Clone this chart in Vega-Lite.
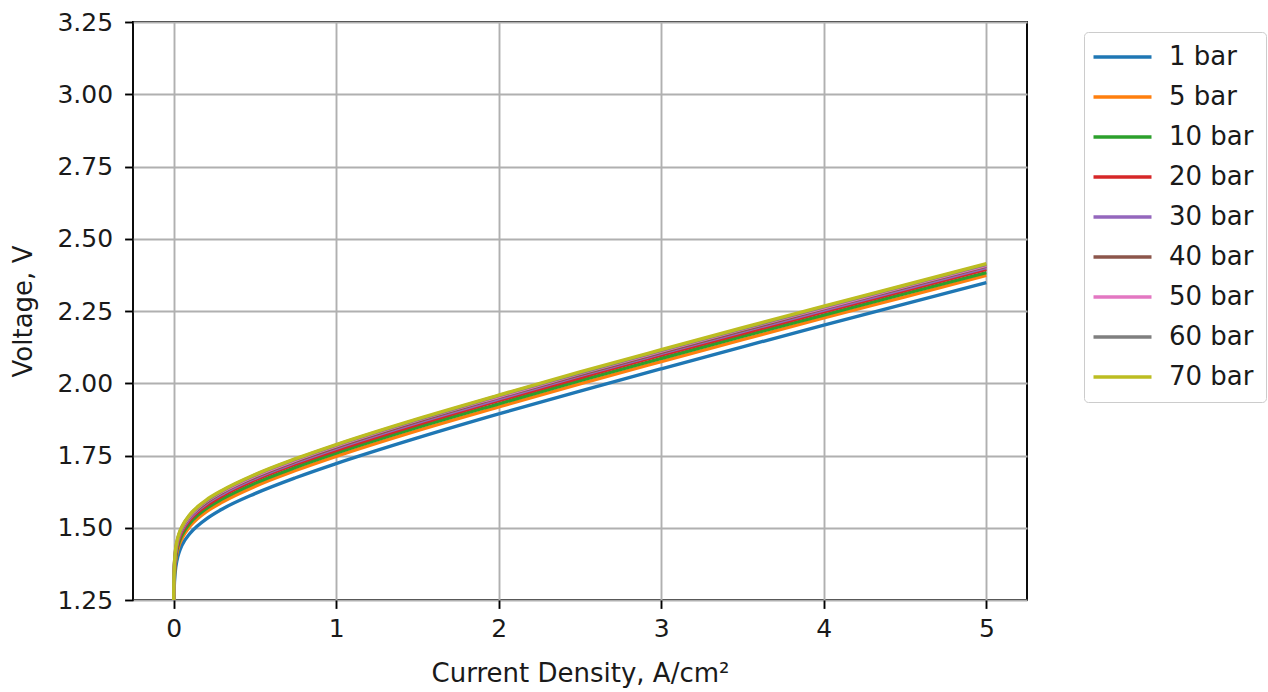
{
  "$schema": "https://vega.github.io/schema/vega-lite/v6.json",
  "width": 894,
  "height": 578,
  "autosize": {"type": "none"},
  "padding": {"left": 133, "top": 22, "right": 241, "bottom": 92},
  "background": "white",
  "config": {
    "font": "DejaVu Sans",
    "view": {"stroke": "#000000", "strokeWidth": 1.9},
    "axis": {
      "domain": false,
      "grid": true,
      "gridColor": "#b0b0b0",
      "gridWidth": 1.9,
      "tickColor": "#000000",
      "tickWidth": 1.9,
      "tickSize": 8.4,
      "labelFont": "DejaVu Sans",
      "labelFontSize": 25,
      "labelColor": "#1a1a1a",
      "labelPadding": 8,
      "labelFlush": false,
      "labelOverlap": false,
      "titleFont": "DejaVu Sans",
      "titleFontSize": 26,
      "titleFontWeight": "normal",
      "titleColor": "#1a1a1a"
    },
    "legend": {
      "orient": "none",
      "legendX": 951,
      "legendY": 10,
      "padding": 12,
      "strokeColor": "#cccccc",
      "fillColor": "#ffffff",
      "cornerRadius": 4,
      "labelFont": "DejaVu Sans",
      "labelFontSize": 26,
      "labelColor": "#1a1a1a",
      "symbolType": "M-1.15,0H4.65",
      "symbolSize": 400,
      "symbolStrokeWidth": 3.4,
      "rowPadding": 14,
      "labelOffset": 51,
      "symbolOffset": -4
    }
  },
  "data": {
    "values": [
      {"s": "1 bar", "j": 0, "v": 1.150}, {"s": "1 bar", "j": 0.001, "v": 1.227}, {"s": "1 bar", "j": 0.003, "v": 1.285}, {"s": "1 bar", "j": 0.01, "v": 1.348}, {"s": "1 bar", "j": 0.02, "v": 1.386}, {"s": "1 bar", "j": 0.035, "v": 1.417}, {"s": "1 bar", "j": 0.05, "v": 1.438}, {"s": "1 bar", "j": 0.1, "v": 1.480}, {"s": "1 bar", "j": 0.15, "v": 1.508}, {"s": "1 bar", "j": 0.2, "v": 1.530}, {"s": "1 bar", "j": 0.3, "v": 1.565}, {"s": "1 bar", "j": 0.5, "v": 1.618}, {"s": "1 bar", "j": 0.75, "v": 1.673}, {"s": "1 bar", "j": 1, "v": 1.722}, {"s": "1 bar", "j": 1.5, "v": 1.811}, {"s": "1 bar", "j": 2, "v": 1.894}, {"s": "1 bar", "j": 2.5, "v": 1.973}, {"s": "1 bar", "j": 3, "v": 2.050}, {"s": "1 bar", "j": 3.5, "v": 2.126}, {"s": "1 bar", "j": 4, "v": 2.201}, {"s": "1 bar", "j": 4.5, "v": 2.275}, {"s": "1 bar", "j": 5, "v": 2.348},
      {"s": "5 bar", "j": 0, "v": 1.175}, {"s": "5 bar", "j": 0.001, "v": 1.252}, {"s": "5 bar", "j": 0.003, "v": 1.310}, {"s": "5 bar", "j": 0.01, "v": 1.373}, {"s": "5 bar", "j": 0.02, "v": 1.411}, {"s": "5 bar", "j": 0.035, "v": 1.442}, {"s": "5 bar", "j": 0.05, "v": 1.462}, {"s": "5 bar", "j": 0.1, "v": 1.505}, {"s": "5 bar", "j": 0.15, "v": 1.533}, {"s": "5 bar", "j": 0.2, "v": 1.555}, {"s": "5 bar", "j": 0.3, "v": 1.589}, {"s": "5 bar", "j": 0.5, "v": 1.643}, {"s": "5 bar", "j": 0.75, "v": 1.698}, {"s": "5 bar", "j": 1, "v": 1.747}, {"s": "5 bar", "j": 1.5, "v": 1.836}, {"s": "5 bar", "j": 2, "v": 1.918}, {"s": "5 bar", "j": 2.5, "v": 1.998}, {"s": "5 bar", "j": 3, "v": 2.075}, {"s": "5 bar", "j": 3.5, "v": 2.151}, {"s": "5 bar", "j": 4, "v": 2.226}, {"s": "5 bar", "j": 4.5, "v": 2.299}, {"s": "5 bar", "j": 5, "v": 2.373},
      {"s": "10 bar", "j": 0, "v": 1.186}, {"s": "10 bar", "j": 0.001, "v": 1.263}, {"s": "10 bar", "j": 0.003, "v": 1.321}, {"s": "10 bar", "j": 0.01, "v": 1.384}, {"s": "10 bar", "j": 0.02, "v": 1.422}, {"s": "10 bar", "j": 0.035, "v": 1.453}, {"s": "10 bar", "j": 0.05, "v": 1.473}, {"s": "10 bar", "j": 0.1, "v": 1.516}, {"s": "10 bar", "j": 0.15, "v": 1.544}, {"s": "10 bar", "j": 0.2, "v": 1.566}, {"s": "10 bar", "j": 0.3, "v": 1.600}, {"s": "10 bar", "j": 0.5, "v": 1.654}, {"s": "10 bar", "j": 0.75, "v": 1.709}, {"s": "10 bar", "j": 1, "v": 1.758}, {"s": "10 bar", "j": 1.5, "v": 1.847}, {"s": "10 bar", "j": 2, "v": 1.929}, {"s": "10 bar", "j": 2.5, "v": 2.009}, {"s": "10 bar", "j": 3, "v": 2.086}, {"s": "10 bar", "j": 3.5, "v": 2.162}, {"s": "10 bar", "j": 4, "v": 2.236}, {"s": "10 bar", "j": 4.5, "v": 2.310}, {"s": "10 bar", "j": 5, "v": 2.383},
      {"s": "20 bar", "j": 0, "v": 1.196}, {"s": "20 bar", "j": 0.001, "v": 1.274}, {"s": "20 bar", "j": 0.003, "v": 1.331}, {"s": "20 bar", "j": 0.01, "v": 1.395}, {"s": "20 bar", "j": 0.02, "v": 1.432}, {"s": "20 bar", "j": 0.035, "v": 1.463}, {"s": "20 bar", "j": 0.05, "v": 1.484}, {"s": "20 bar", "j": 0.1, "v": 1.527}, {"s": "20 bar", "j": 0.15, "v": 1.555}, {"s": "20 bar", "j": 0.2, "v": 1.576}, {"s": "20 bar", "j": 0.3, "v": 1.611}, {"s": "20 bar", "j": 0.5, "v": 1.665}, {"s": "20 bar", "j": 0.75, "v": 1.720}, {"s": "20 bar", "j": 1, "v": 1.768}, {"s": "20 bar", "j": 1.5, "v": 1.857}, {"s": "20 bar", "j": 2, "v": 1.940}, {"s": "20 bar", "j": 2.5, "v": 2.019}, {"s": "20 bar", "j": 3, "v": 2.097}, {"s": "20 bar", "j": 3.5, "v": 2.172}, {"s": "20 bar", "j": 4, "v": 2.247}, {"s": "20 bar", "j": 4.5, "v": 2.321}, {"s": "20 bar", "j": 5, "v": 2.394},
      {"s": "30 bar", "j": 0, "v": 1.203}, {"s": "30 bar", "j": 0.001, "v": 1.280}, {"s": "30 bar", "j": 0.003, "v": 1.338}, {"s": "30 bar", "j": 0.01, "v": 1.401}, {"s": "30 bar", "j": 0.02, "v": 1.439}, {"s": "30 bar", "j": 0.035, "v": 1.470}, {"s": "30 bar", "j": 0.05, "v": 1.490}, {"s": "30 bar", "j": 0.1, "v": 1.533}, {"s": "30 bar", "j": 0.15, "v": 1.561}, {"s": "30 bar", "j": 0.2, "v": 1.583}, {"s": "30 bar", "j": 0.3, "v": 1.617}, {"s": "30 bar", "j": 0.5, "v": 1.671}, {"s": "30 bar", "j": 0.75, "v": 1.726}, {"s": "30 bar", "j": 1, "v": 1.775}, {"s": "30 bar", "j": 1.5, "v": 1.864}, {"s": "30 bar", "j": 2, "v": 1.946}, {"s": "30 bar", "j": 2.5, "v": 2.026}, {"s": "30 bar", "j": 3, "v": 2.103}, {"s": "30 bar", "j": 3.5, "v": 2.179}, {"s": "30 bar", "j": 4, "v": 2.253}, {"s": "30 bar", "j": 4.5, "v": 2.327}, {"s": "30 bar", "j": 5, "v": 2.400},
      {"s": "40 bar", "j": 0, "v": 1.207}, {"s": "40 bar", "j": 0.001, "v": 1.285}, {"s": "40 bar", "j": 0.003, "v": 1.342}, {"s": "40 bar", "j": 0.01, "v": 1.406}, {"s": "40 bar", "j": 0.02, "v": 1.443}, {"s": "40 bar", "j": 0.035, "v": 1.474}, {"s": "40 bar", "j": 0.05, "v": 1.495}, {"s": "40 bar", "j": 0.1, "v": 1.538}, {"s": "40 bar", "j": 0.15, "v": 1.565}, {"s": "40 bar", "j": 0.2, "v": 1.587}, {"s": "40 bar", "j": 0.3, "v": 1.622}, {"s": "40 bar", "j": 0.5, "v": 1.675}, {"s": "40 bar", "j": 0.75, "v": 1.730}, {"s": "40 bar", "j": 1, "v": 1.779}, {"s": "40 bar", "j": 1.5, "v": 1.868}, {"s": "40 bar", "j": 2, "v": 1.951}, {"s": "40 bar", "j": 2.5, "v": 2.030}, {"s": "40 bar", "j": 3, "v": 2.107}, {"s": "40 bar", "j": 3.5, "v": 2.183}, {"s": "40 bar", "j": 4, "v": 2.258}, {"s": "40 bar", "j": 4.5, "v": 2.332}, {"s": "40 bar", "j": 5, "v": 2.405},
      {"s": "50 bar", "j": 0, "v": 1.211}, {"s": "50 bar", "j": 0.001, "v": 1.288}, {"s": "50 bar", "j": 0.003, "v": 1.345}, {"s": "50 bar", "j": 0.01, "v": 1.409}, {"s": "50 bar", "j": 0.02, "v": 1.446}, {"s": "50 bar", "j": 0.035, "v": 1.478}, {"s": "50 bar", "j": 0.05, "v": 1.498}, {"s": "50 bar", "j": 0.1, "v": 1.541}, {"s": "50 bar", "j": 0.15, "v": 1.569}, {"s": "50 bar", "j": 0.2, "v": 1.591}, {"s": "50 bar", "j": 0.3, "v": 1.625}, {"s": "50 bar", "j": 0.5, "v": 1.679}, {"s": "50 bar", "j": 0.75, "v": 1.734}, {"s": "50 bar", "j": 1, "v": 1.783}, {"s": "50 bar", "j": 1.5, "v": 1.872}, {"s": "50 bar", "j": 2, "v": 1.954}, {"s": "50 bar", "j": 2.5, "v": 2.034}, {"s": "50 bar", "j": 3, "v": 2.111}, {"s": "50 bar", "j": 3.5, "v": 2.187}, {"s": "50 bar", "j": 4, "v": 2.261}, {"s": "50 bar", "j": 4.5, "v": 2.335}, {"s": "50 bar", "j": 5, "v": 2.408},
      {"s": "60 bar", "j": 0, "v": 1.214}, {"s": "60 bar", "j": 0.001, "v": 1.291}, {"s": "60 bar", "j": 0.003, "v": 1.348}, {"s": "60 bar", "j": 0.01, "v": 1.412}, {"s": "60 bar", "j": 0.02, "v": 1.449}, {"s": "60 bar", "j": 0.035, "v": 1.480}, {"s": "60 bar", "j": 0.05, "v": 1.501}, {"s": "60 bar", "j": 0.1, "v": 1.544}, {"s": "60 bar", "j": 0.15, "v": 1.572}, {"s": "60 bar", "j": 0.2, "v": 1.593}, {"s": "60 bar", "j": 0.3, "v": 1.628}, {"s": "60 bar", "j": 0.5, "v": 1.682}, {"s": "60 bar", "j": 0.75, "v": 1.737}, {"s": "60 bar", "j": 1, "v": 1.786}, {"s": "60 bar", "j": 1.5, "v": 1.874}, {"s": "60 bar", "j": 2, "v": 1.957}, {"s": "60 bar", "j": 2.5, "v": 2.036}, {"s": "60 bar", "j": 3, "v": 2.114}, {"s": "60 bar", "j": 3.5, "v": 2.189}, {"s": "60 bar", "j": 4, "v": 2.264}, {"s": "60 bar", "j": 4.5, "v": 2.338}, {"s": "60 bar", "j": 5, "v": 2.411},
      {"s": "70 bar", "j": 0, "v": 1.216}, {"s": "70 bar", "j": 0.001, "v": 1.293}, {"s": "70 bar", "j": 0.003, "v": 1.351}, {"s": "70 bar", "j": 0.01, "v": 1.414}, {"s": "70 bar", "j": 0.02, "v": 1.452}, {"s": "70 bar", "j": 0.035, "v": 1.483}, {"s": "70 bar", "j": 0.05, "v": 1.503}, {"s": "70 bar", "j": 0.1, "v": 1.546}, {"s": "70 bar", "j": 0.15, "v": 1.574}, {"s": "70 bar", "j": 0.2, "v": 1.596}, {"s": "70 bar", "j": 0.3, "v": 1.630}, {"s": "70 bar", "j": 0.5, "v": 1.684}, {"s": "70 bar", "j": 0.75, "v": 1.739}, {"s": "70 bar", "j": 1, "v": 1.788}, {"s": "70 bar", "j": 1.5, "v": 1.877}, {"s": "70 bar", "j": 2, "v": 1.959}, {"s": "70 bar", "j": 2.5, "v": 2.039}, {"s": "70 bar", "j": 3, "v": 2.116}, {"s": "70 bar", "j": 3.5, "v": 2.192}, {"s": "70 bar", "j": 4, "v": 2.267}, {"s": "70 bar", "j": 4.5, "v": 2.340}, {"s": "70 bar", "j": 5, "v": 2.414}
    ]
  },
  "mark": {"type": "line", "strokeWidth": 3.4, "clip": true, "interpolate": "monotone"},
  "encoding": {
    "x": {
      "field": "j",
      "type": "quantitative",
      "scale": {"domain": [-0.25, 5.25], "nice": false, "zero": false},
      "axis": {"values": [0, 1, 2, 3, 4, 5], "format": "d", "title": "Current Density, A/cm²", "titlePadding": 19}
    },
    "y": {
      "field": "v",
      "type": "quantitative",
      "scale": {"domain": [1.25, 3.25], "nice": false, "zero": false},
      "axis": {"values": [1.25, 1.5, 1.75, 2, 2.25, 2.5, 2.75, 3, 3.25], "format": ".2f", "title": "Voltage, V", "labelPadding": 12, "titlePadding": 20}
    },
    "color": {
      "field": "s",
      "type": "nominal",
      "scale": {
        "domain": ["1 bar", "5 bar", "10 bar", "20 bar", "30 bar", "40 bar", "50 bar", "60 bar", "70 bar"],
        "range": ["#1f77b4", "#ff7f0e", "#2ca02c", "#d62728", "#9467bd", "#8c564b", "#e377c2", "#7f7f7f", "#bcbd22"]
      },
      "legend": {"title": null}
    }
  }
}
